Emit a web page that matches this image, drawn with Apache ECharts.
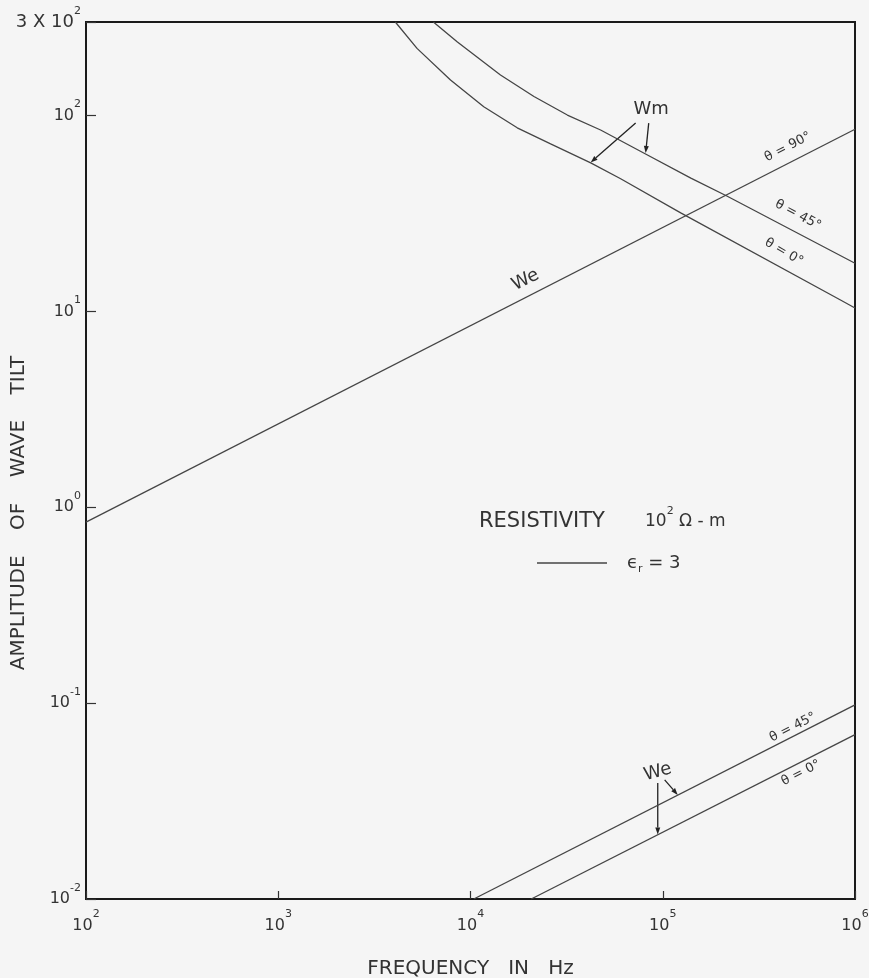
<!DOCTYPE html>
<html><head><meta charset="utf-8">
<script src="https://cdn.jsdelivr.net/npm/echarts@6/dist/echarts.min.js"></script>
<style>html,body{margin:0;padding:0;background:#f5f5f5}#c{width:869px;height:978px}</style>
</head><body><div id="c"></div>
<script>
// ---- data (frequency in Hz, amplitude of wave tilt) ----
const xRange = [1e2, 1e6];
const yRange = [1e-2, 3e2];
const weTheta90 = [[100, 0.84], [1e6, 85]];
const wmTheta45 = [[6410, 300], [8550, 237], [14320, 161], [21380, 125], [31900, 100.5], [47500, 84.3], [79600, 64.3], [140000, 47.9], [215400, 38.8], [1e6, 17.6]];
const wmTheta0 = [[4064, 300], [5270, 220], [7870, 151.6], [11720, 110.8], [17500, 86.5], [26100, 71.6], [42200, 57.3], [60400, 47.5], [124000, 31.8], [845000, 11.4], [1e6, 10.4]];
const weLow45 = [[10400, 0.01], [1e6, 0.098]];
const weLow0 = [[20700, 0.01], [1e6, 0.069]];

// annotation anchors in log10(frequency), log10(value)
const labels = [
  {t: 'Wm', at: [4.94, 2.03], rot: 0, size: 18},
  {t: 'θ = 90°', at: [5.651, 1.839], rot: 27, size: 13},
  {t: 'θ = 45°', at: [5.703, 1.492], rot: -28, size: 13},
  {t: 'θ = 0°', at: [5.630, 1.303], rot: -30, size: 13},
  {t: 'We', at: [4.286, 1.160], rot: 27, size: 18},
  {t: 'θ = 45°', at: [5.677, -1.124], rot: 27, size: 13},
  {t: 'θ = 0°', at: [5.719, -1.357], rot: 27, size: 13},
  {t: 'We', at: [4.974, -1.352], rot: 15, size: 18}
];
const arrows = [
  [[4.859, 1.961], [4.625, 1.760]],
  [[4.927, 1.961], [4.911, 1.808]],
  [[4.974, -1.408], [4.974, -1.671]],
  [[5.010, -1.392], [5.078, -1.469]]
];

const FONT = 'DejaVu Sans';
const TXT = '#333';
const LINE = '#454545';

function expLabel(v) {
  if (Math.abs(v - 300) < 1) return '{m|3 X 10}{s|2}';
  const e = Math.round(Math.log10(v));
  return '{b|10}{s|' + e + '}';
}
const richNum = {
  b: {fontSize: 16, fontFamily: FONT, color: TXT},
  m: {fontSize: 18, fontFamily: FONT, color: TXT},
  s: {fontSize: 11, fontFamily: FONT, color: TXT, padding: [0, 0, 22, 0]}
};

const chart = echarts.init(document.getElementById('c'), null, {renderer: 'canvas'});
function series(name, data) {
  return {name, type: 'line', data, showSymbol: false, smooth: false,
    lineStyle: {color: LINE, width: 1.3}, clip: true, silent: true};
}
chart.setOption({
  animation: false,
  backgroundColor: '#f5f5f5',
  grid: {left: 86, right: 14, top: 22, bottom: 79, show: true, borderColor: '#1a1a1a', borderWidth: 2,
    containLabel: false, outerBoundsMode: 'none'},
  xAxis: {
    type: 'log', logBase: 10, min: xRange[0], max: xRange[1],
    axisLine: {show: false},
    axisTick: {show: true, inside: true, length: 8, lineStyle: {color: '#333', width: 1.2}},
    splitLine: {show: false},
    axisLabel: {formatter: v => expLabel(v), margin: 10, rich: richNum},
    name: 'FREQUENCY   IN   Hz', nameLocation: 'middle', nameGap: 60,
    nameTextStyle: {fontSize: 20, fontFamily: FONT, color: TXT}
  },
  yAxis: {
    type: 'log', logBase: 10, min: yRange[0], max: yRange[1],
    axisLine: {show: false},
    axisTick: {show: true, inside: true, length: 10, lineStyle: {color: '#333', width: 1.2}},
    splitLine: {show: false},
    axisLabel: {formatter: v => expLabel(v), margin: 5, rich: richNum}
  },
  series: [
    series('We θ=90°', weTheta90),
    series('Wm θ=45°', wmTheta45),
    series('Wm θ=0°', wmTheta0),
    series('We θ=45°', weLow45),
    series('We θ=0°', weLow0)
  ]
});

function px(l) { return chart.convertToPixel({gridIndex: 0}, [Math.pow(10, l[0]), Math.pow(10, l[1])]); }
const g = [];
labels.forEach(a => {
  const p = px(a.at);
  g.push({type: 'text', x: p[0], y: p[1], rotation: a.rot * Math.PI / 180,
    style: {text: a.t, fontSize: a.size, fontFamily: FONT, fill: TXT, align: 'center', verticalAlign: 'middle'}});
});
arrows.forEach(ar => {
  const a = px(ar[0]), b = px(ar[1]);
  const dx = b[0] - a[0], dy = b[1] - a[1], L = Math.hypot(dx, dy);
  const ux = dx / L, uy = dy / L, hl = 7, hw = 2.5;
  const bx = b[0] - ux * hl, by = b[1] - uy * hl;
  g.push({type: 'line', shape: {x1: a[0], y1: a[1], x2: bx, y2: by}, style: {stroke: '#222', lineWidth: 1.3}});
  g.push({type: 'polygon', shape: {points: [[b[0], b[1]], [bx - uy * hw, by + ux * hw], [bx + uy * hw, by - ux * hw]]}, style: {fill: '#222'}});
});
// y axis title
g.push({type: 'text', x: 19, y: 513, rotation: Math.PI / 2,
  style: {text: 'AMPLITUDE    OF    WAVE    TILT', fontSize: 20, fontFamily: FONT, fill: TXT, align: 'center', verticalAlign: 'middle'}});
// resistivity note
g.push({type: 'text', x: 479, y: 522, style: {text: 'RESISTIVITY', fontSize: 21, fontFamily: FONT, fill: TXT, align: 'left', verticalAlign: 'middle'}});
g.push({type: 'text', x: 645, y: 522, style: {text: '{a|10}{s|2}{a| Ω - m}', align: 'left', verticalAlign: 'middle',
  rich: {a: {fontSize: 17, fontFamily: FONT, fill: TXT}, s: {fontSize: 11, fontFamily: FONT, fill: TXT, padding: [0, 0, 22, 0]}}}});
g.push({type: 'line', shape: {x1: 537, y1: 563, x2: 607, y2: 563}, style: {stroke: LINE, lineWidth: 1.3}});
g.push({type: 'text', x: 627, y: 563, style: {text: '{a|ϵ}{r|r}{a| = 3}', align: 'left', verticalAlign: 'middle',
  rich: {a: {fontSize: 18, fontFamily: FONT, fill: TXT}, r: {fontSize: 11, fontFamily: FONT, fill: TXT, padding: [12, 0, 0, 0]}}}});
chart.setOption({graphic: g});
</script>
</body></html>
